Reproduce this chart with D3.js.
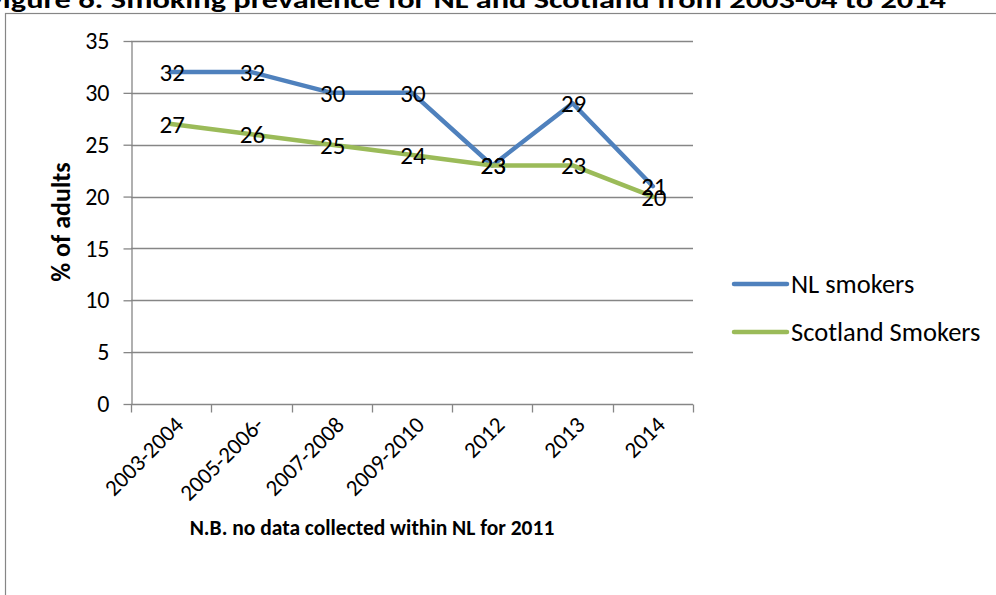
<!DOCTYPE html>
<html>
<head>
<meta charset="utf-8">
<script src="https://cdn.jsdelivr.net/npm/d3@7"></script>
<style>
  html, body { margin: 0; padding: 0; background: #fff; }
  svg { display: block; }
  text { font-family: Carlito, "Open Sans", "Liberation Sans", sans-serif; fill: #000; }
</style>
</head>
<body>
<svg id="chart" width="996" height="595"></svg>
<script>
// Survey periods on the category axis
const periods = ["2003-2004", "2005-2006-", "2007-2008", "2009-2010", "2012", "2013", "2014"];
// Smoking prevalence, % of adults
const nlSmokers = [32, 32, 30, 30, 23, 29, 21];
const scotlandSmokers = [27, 26, 25, 24, 23, 23, 20];
const yTicks = [0, 5, 10, 15, 20, 25, 30, 35];
const seriesNames = ["NL smokers", "Scotland Smokers"];
const seriesColors = ["#4F81BD", "#9BBB59"];

const svg = d3.select("#chart");

// chart frame
svg.append("rect")
  .attr("x", 5.5).attr("y", 13.5)
  .attr("width", 1100).attr("height", 700)
  .attr("fill", "#fff").attr("stroke", "#868686").attr("stroke-width", 1.2);

// title (sits partly above the top edge)
svg.append("text")
  .attr("x", -12).attr("y", 8)
  .attr("font-size", 25).attr("font-weight", "bold")
  .attr("textLength", 958).attr("lengthAdjust", "spacingAndGlyphs")
  .text("Figure 6: Smoking prevalence for NL and Scotland from 2003-04 to 2014");

const plot = { left: 131, right: 693, top: 41, bottom: 404 };

const x = d3.scaleBand().domain(periods).range([plot.left, plot.right]).padding(0);
const y = d3.scaleLinear().domain([0, 35]).range([plot.bottom, plot.top]);

// horizontal gridlines
svg.append("g").selectAll("line").data(yTicks.filter(d => d > 0)).join("line")
  .attr("x1", plot.left).attr("x2", plot.right)
  .attr("y1", d => Math.round(y(d)) + 0.5).attr("y2", d => Math.round(y(d)) + 0.5)
  .attr("stroke", "#868686").attr("stroke-width", 1.3);

// y axis
const yAxis = svg.append("g")
  .attr("transform", `translate(${plot.left + 0.5},0)`)
  .call(d3.axisLeft(y).tickValues(yTicks).tickSize(8).tickPadding(14).tickSizeOuter(0));
yAxis.select(".domain").attr("stroke", "#868686").attr("stroke-width", 1.3);
yAxis.selectAll(".tick line").attr("stroke", "#868686").attr("stroke-width", 1.3);
yAxis.selectAll(".tick text").attr("font-size", 24).attr("font-family", null).attr("fill", "#000");

// x axis with ticks on band boundaries
const xAxisG = svg.append("g").attr("transform", `translate(0,${Math.round(plot.bottom) + 0.5})`);
xAxisG.append("line").attr("x1", plot.left).attr("x2", plot.right)
  .attr("stroke", "#868686").attr("stroke-width", 1.3);
const bounds = periods.map(p => x(p)).concat([x(periods[periods.length - 1]) + x.bandwidth()]);
xAxisG.selectAll("line.tk").data(bounds).join("line").attr("class", "tk")
  .attr("x1", d => Math.round(d) + 0.5).attr("x2", d => Math.round(d) + 0.5)
  .attr("y1", 0).attr("y2", 8)
  .attr("stroke", "#868686").attr("stroke-width", 1.3);
xAxisG.selectAll("text").data(periods).join("text")
  .attr("transform", d => `translate(${x(d) + x.bandwidth() / 2 + 8},${16}) rotate(-45)`)
  .attr("text-anchor", "end")
  .attr("dy", "0.35em")
  .attr("font-size", 23)
  .text(d => d);

// axis titles
svg.append("text")
  .attr("transform", `translate(70,222) rotate(-90)`)
  .attr("text-anchor", "middle")
  .attr("font-size", 26).attr("font-weight", "bold")
  .text("% of adults");

svg.append("text")
  .attr("x", 372).attr("y", 535)
  .attr("text-anchor", "middle")
  .attr("font-size", 21.5).attr("font-weight", "bold")
  .text("N.B. no data collected within NL for 2011");

// series lines and centred value labels
const allSeries = [nlSmokers, scotlandSmokers];
const line = d3.line()
  .x((d, i) => x(periods[i]) + x.bandwidth() / 2)
  .y(d => y(d));

allSeries.forEach((vals, s) => {
  svg.append("path")
    .datum(vals)
    .attr("d", line)
    .attr("fill", "none")
    .attr("stroke", seriesColors[s])
    .attr("stroke-width", 4.5)
    .attr("stroke-linejoin", "round")
    .attr("stroke-linecap", "round");
});

allSeries.forEach((vals, s) => {
  svg.append("g").selectAll("text").data(vals).join("text")
    .attr("x", (d, i) => x(periods[i]) + x.bandwidth() / 2 + 1)
    .attr("y", d => y(d))
    .attr("dy", "0.36em")
    .attr("text-anchor", "middle")
    .attr("font-size", 25)
    .text(d => d);
});

// legend
const legend = svg.append("g");
seriesNames.forEach((name, i) => {
  const ly = 284 + i * 48;
  legend.append("line")
    .attr("x1", 734).attr("x2", 787)
    .attr("y1", ly).attr("y2", ly)
    .attr("stroke", seriesColors[i]).attr("stroke-width", 4.5)
    .attr("stroke-linecap", "round");
  legend.append("text")
    .attr("x", 791).attr("y", ly)
    .attr("dy", "0.35em")
    .attr("font-size", 26.5)
    .text(name);
});
</script>
</body>
</html>
